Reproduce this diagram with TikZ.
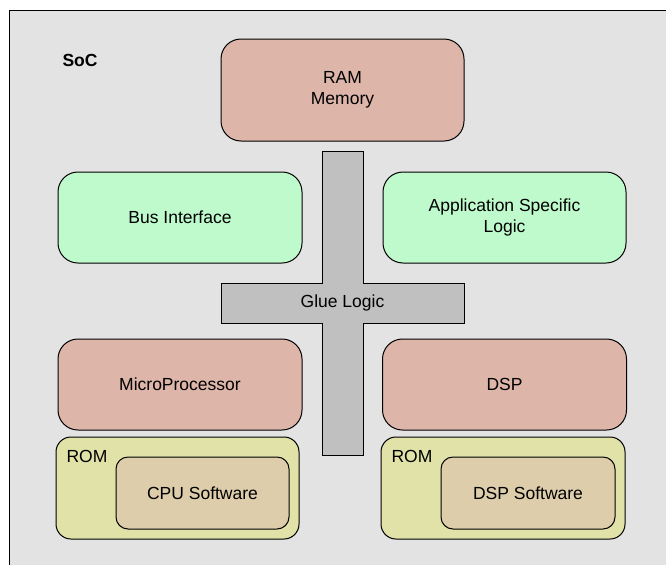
\documentclass[tikz,border=0pt]{standalone}
\usepackage{fontspec}
\setmainfont{Liberation Sans}
\definecolor{socgray}{RGB}{227,227,227}
\definecolor{memred}{RGB}{221,181,169}
\definecolor{logicgreen}{RGB}{190,250,204}
\definecolor{gluegray}{RGB}{192,192,192}
\definecolor{romyellow}{RGB}{224,226,168}
\definecolor{swtan}{RGB}{221,205,170}
\tikzset{
  block/.style={draw, line width=1pt, rounded corners=20pt, align=center, inner sep=0pt},
  memblock/.style={block, fill=memred},
  logicblock/.style={block, fill=logicgreen},
  romblock/.style={block, fill=romyellow, rounded corners=15pt},
  swblock/.style={block, fill=swtan, rounded corners=12pt},
  glue/.style={draw, line width=1pt, fill=gluegray}
}

\begin{document}
\begin{tikzpicture}[x=1pt, y=-1pt, font=\fontsize{17.5}{21}\selectfont]
  \useasboundingbox (0,0) rectangle (666,565);
  \fill[socgray] (9,10) rectangle (666,565);
  \draw[line width=1pt] (666,10) -- (9,10) -- (9,565);
  \node[font=\fontsize{17.5}{21}\selectfont\bfseries] (soc) at (80,60) {SoC};

  \node[memblock, minimum width=243pt, minimum height=102pt] (ram) at (342.5,90) {RAM\\Memory};

  \node[logicblock, minimum width=244pt, minimum height=91pt] (bus) at (180,217.5) {Bus Interface};
  \node[logicblock, minimum width=243pt, minimum height=91pt] (app) at (504.5,217.5) {Application Specific\\Logic};

  % glue logic cross
  \draw[glue] (322,151) -- (363,151) -- (363,283) -- (464,283) -- (464,323) -- (363,323)
    -- (363,455) -- (322,455) -- (322,323) -- (221,323) -- (221,283) -- (322,283) -- cycle;
  \node (gluelogic) at (342.5,303) {Glue Logic};

  \node[memblock, minimum width=244pt, minimum height=91pt] (micro) at (180,384.5) {MicroProcessor};
  \node[memblock, minimum width=244pt, minimum height=91pt] (dsp) at (504.5,384.5) {DSP};

  \node[romblock, minimum width=243pt, minimum height=102pt] (romcpu) at (177.5,488) {};
  \node[anchor=west] (romcpulabel) at (63,456) {ROM};
  \node[swblock, minimum width=173pt, minimum height=72pt] (cpusw) at (202.5,493) {CPU Software};

  \node[romblock, minimum width=244pt, minimum height=102pt] (romdsp) at (503,488) {};
  \node[anchor=west] (romdsplabel) at (388,456) {ROM};
  \node[swblock, minimum width=174pt, minimum height=72pt] (dspsw) at (528,493) {DSP Software};
\end{tikzpicture}
\end{document}
